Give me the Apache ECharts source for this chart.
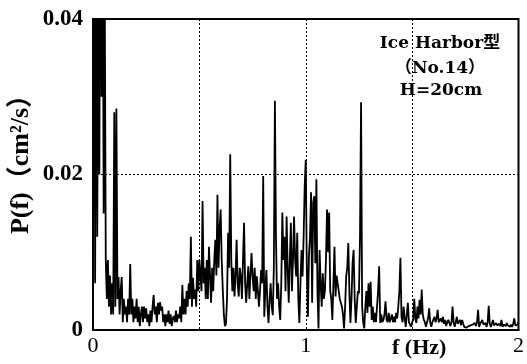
<!DOCTYPE html>
<html><head><meta charset="utf-8">
<script src="https://cdn.jsdelivr.net/npm/echarts@6/dist/echarts.min.js"></script>
<style>html,body{margin:0;padding:0;background:#fff}#c{width:527px;height:364px}</style>
</head><body><div id="c"></div>
<script>
// frequency step (Hz) between successive spectral estimates, starting at 0 Hz
const freqStep = 0.005;
// spectral density P(f) in cm^2/s (0 .. 2 Hz)
const power = [
0.005,0.08,0.006,0.06,0.012,0.05,0.02,0.07,0.03,0.06,
0.015,0.045,0.009,0.004,0.009,0.003,0.007,0.002,0.006,0.002,
0.028,0.003,0.0285,0.004,0.0068,0.002,0.005,0.0068,0.001,0.004,
0.002,0.003,0.001,0.004,0.002,0.0085,0.002,0.004,0.001,0.003,
0.0015,0.004,0.001,0.003,0.0005,0.002,0.003,0.001,0.003,0.0015,
0.0028,0.001,0.002,0.0005,0.0025,0.001,0.003,0.0045,0.002,0.003,
0.001,0.0035,0.002,0.0036,0.0025,0.003,0.001,0.002,0.0005,0.002,
0.001,0.0025,0.0008,0.002,0.0005,0.0015,0.0018,0.001,0.0025,0.001,
0.002,0.0015,0.003,0.001,0.0058,0.002,0.004,0.002,0.005,0.003,
0.006,0.004,0.012,0.003,0.0067,0.004,0.0052,0.003,0.009,0.005,
0.009,0.007,0.005,0.0166,0.006,0.008,0.004,0.009,0.004,0.0107,
0.007,0.0035,0.008,0.005,0.009,0.0116,0.007,0.0174,0.008,0.013,
0.0155,0.009,0.0052,0.002,0.0005,0.0008,0.004,0.0125,0.008,0.0226,
0.009,0.005,0.008,0.0043,0.007,0.0116,0.006,0.0043,0.008,0.0069,
0.004,0.009,0.0138,0.006,0.0035,0.006,0.0082,0.004,0.007,0.0099,
0.007,0.005,0.008,0.004,0.0069,0.005,0.003,0.005,0.0077,0.006,
0.0198,0.0017,0.005,0.0077,0.003,0.0009,0.004,0.006,0.003,0.0019,
0.008,0.0295,0.012,0.004,0.006,0.003,0.0013,0.006,0.0151,0.009,
0.012,0.005,0.0146,0.008,0.0035,0.009,0.0138,0.005,0.009,0.0146,
0.009,0.0069,0.0125,0.004,0.0009,0.006,0.0103,0.0069,0.012,0.0185,
0.0219,0.008,0.0017,0.0095,0.012,0.0177,0.0035,0.0164,0.0172,0.0086,
0.0194,0.005,0.0002,0.0103,0.006,0.003,0.0073,0.004,0.005,0.009,
0.0155,0.01,0.0151,0.005,0.004,0.0013,0.006,0.0107,0.0043,0.007,
0.006,0.005,0.004,0.0035,0.003,0.002,0.0002,0.003,0.0069,0.008,
0.0112,0.005,0.0009,0.004,0.0086,0.0103,0.004,0.0009,0.003,0.005,
0.0047,0.012,0.0293,0.003,0.001,0.0002,0.003,0.005,0.0022,0.006,
0.003,0.0062,0.0013,0.003,0.001,0.0022,0.001,0.003,0.005,0.0082,
0.0009,0.002,0.001,0.0013,0.002,0.0037,0.0013,0.001,0.0022,0.001,
0.0009,0.002,0.001,0.0017,0.001,0.0022,0.0015,0.003,0.005,0.0093,
0.0017,0.001,0.003,0.0015,0.0004,0.002,0.0035,0.001,0.0009,0.0004,
0.001,0.0013,0.004,0.0015,0.0009,0.003,0.0015,0.0039,0.002,0.0052,
0.002,0.0013,0.001,0.0004,0.001,0.0015,0.0028,0.001,0.0004,0.001,
0.0008,0.0017,0.001,0.0015,0.0026,0.001,0.0009,0.0015,0.001,0.0017,
0.0008,0.0013,0.0005,0.001,0.0013,0.0009,0.0005,0.001,0.003,0.001,
0.0004,0.001,0.0017,0.0008,0.001,0.0013,0.0006,0.0013,0.0008,0.0004,
0.0006,0.0003,0.0002,0.0005,0.0003,0.0006,0.0004,0.0007,0.0005,0.0009,
0.0005,0.001,0.0026,0.0004,0.0008,0.0006,0.0013,0.0007,0.0005,0.0009,
0.0004,0.001,0.0031,0.0008,0.0004,0.0008,0.0013,0.0006,0.0005,0.0009,
0.0006,0.0004,0.0008,0.0005,0.0013,0.0004,0.0007,0.0009,0.0005,0.0009,
0.0006,0.0004,0.0004,0.0007,0.0004,0.0008,0.0015,0.0006,0.0004,0.0007,
0.001
];
const xTickLabels = {0:'0', 1:'1', 2:'2'};
const yTickLabels = {0:'0', 0.02:'0.02', 0.04:'0.04'};
const xName = 'f (Hz)';
const yName = 'P(f)（cm²/s）';
const noteLines = ['Ice Harbor型', '（No.14）', 'H=20cm'];

const seriesData = power.map((v, i) => [+(i * freqStep).toFixed(3), v]);
const serif = "'Liberation Serif','DejaVu Serif','Noto Sans CJK JP',serif";
const wideSerif = "'DejaVu Serif','Noto Sans CJK JP',serif";

const chart = echarts.init(document.getElementById('c'), null, {renderer: 'canvas'});
chart.setOption({
  animation: false,
  backgroundColor: '#fff',
  grid: {left: 93, right: 8, top: 19, bottom: 34, show: true, borderColor: '#000', borderWidth: 2, backgroundColor: 'transparent'},
  xAxis: {
    type: 'value', min: 0, max: 2, interval: 0.5,
    axisLine: {show: true, lineStyle: {color: '#000', width: 2}},
    axisTick: {show: false},
    axisLabel: {color: '#000', fontFamily: serif, fontSize: 22, margin: 5,
      formatter: v => (xTickLabels[v] !== undefined ? xTickLabels[v] : '')},
    splitLine: {show: true, lineStyle: {color: '#000', type: [2, 2], width: 1}}
  },
  yAxis: {
    type: 'value', min: 0, max: 0.04, interval: 0.02,
    axisLine: {show: true, lineStyle: {color: '#000', width: 2}},
    axisTick: {show: false},
    axisLabel: {color: '#000', fontFamily: serif, fontSize: 23, fontWeight: 'bold', margin: 10,
      formatter: v => (yTickLabels[v] !== undefined ? yTickLabels[v] : '')},
    splitLine: {show: true, lineStyle: {color: '#000', type: [2, 2], width: 1}}
  },
  series: [{
    type: 'line', data: seriesData, showSymbol: false, clip: true,
    lineStyle: {color: '#000', width: 1.8}
  }],
  graphic: [
    {type: 'text', left: 392, top: 337, style: {text: xName, font: "bold 22px " + serif, fill: '#000'}},
    {type: 'text', x: 21, y: 158, rotation: Math.PI / 2, style: {text: yName, font: "bold 26px " + serif, fill: '#000', align: 'center', verticalAlign: 'middle'}},
    {type: 'text', x: 440, y: 44, style: {text: noteLines[0], font: "bold 17px " + wideSerif, fill: '#000', align: 'center', verticalAlign: 'middle'}},
    {type: 'text', x: 440, y: 69, style: {text: noteLines[1], font: "bold 17px " + wideSerif, fill: '#000', align: 'center', verticalAlign: 'middle'}},
    {type: 'text', x: 441, y: 91, style: {text: noteLines[2], font: "bold 17px " + wideSerif, fill: '#000', align: 'center', verticalAlign: 'middle'}}
  ]
});
</script></body></html>
